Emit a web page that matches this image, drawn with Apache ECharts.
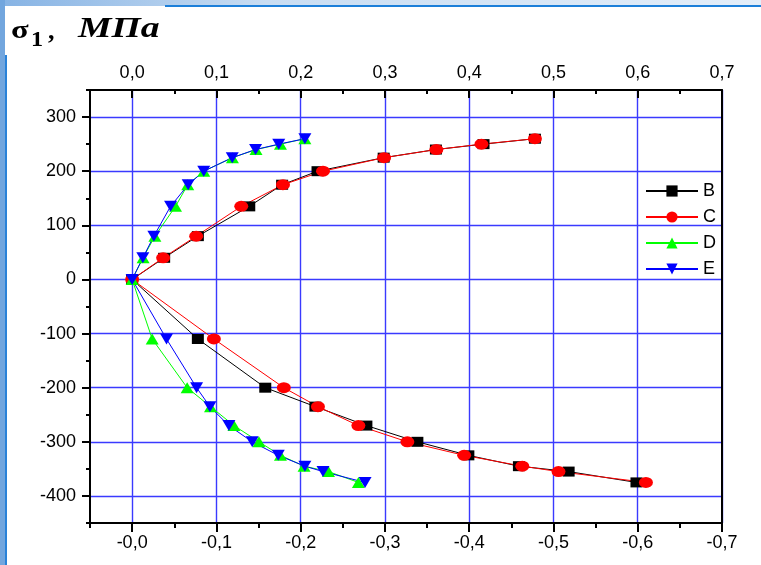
<!DOCTYPE html>
<html><head><meta charset="utf-8">
<script src="https://cdn.jsdelivr.net/npm/echarts@6/dist/echarts.min.js"></script>
<style>html,body{margin:0;padding:0;background:#fff}#c{width:761px;height:565px}</style>
</head><body><div id="c"></div>
<script>
// Stress levels (MPa), shared by all four series: upper branch, origin, lower branch
const stress = [260, 250, 240, 225, 200, 175, 135, 80, 40, 0, -110, -200, -235, -270, -300, -325, -345, -355, -375];
// Strain magnitudes (%)
const strainB = [0.478, 0.417, 0.3605, 0.2985, 0.220, 0.178, 0.139, 0.078, 0.038, 0, 0.078, 0.158, 0.2175, 0.278, 0.3385, 0.399, 0.459, 0.518, 0.5985];
const strainC = [0.478, 0.4145, 0.361, 0.299, 0.2265, 0.179, 0.1295, 0.076, 0.0368, 0, 0.097, 0.180, 0.2205, 0.2685, 0.3266, 0.394, 0.463, 0.506, 0.6097];
const strainD = [0.205, 0.176, 0.147, 0.119, 0.085, 0.066, 0.0515, 0.027, 0.013, 0, 0.0238, 0.0653, 0.093, 0.1208, 0.1505, 0.176, 0.204, 0.233, 0.2685];
const strainE = [0.205, 0.174, 0.1465, 0.1188, 0.085, 0.0665, 0.0456, 0.0258, 0.0127, 0, 0.0408, 0.0765, 0.0923, 0.1148, 0.1425, 0.1734, 0.205, 0.2265, 0.2764];
const seriesNames = ['B', 'C', 'D', 'E'];

// Tick labels
const xMajorValues = [0, 0.1, 0.2, 0.3, 0.4, 0.5, 0.6, 0.7];
const topTickLabels = ['0,0', '0,1', '0,2', '0,3', '0,4', '0,5', '0,6', '0,7'];
const bottomTickLabels = ['-0,0', '-0,1', '-0,2', '-0,3', '-0,4', '-0,5', '-0,6', '-0,7'];
const yMajorValues = [-400, -300, -200, -100, 0, 100, 200, 300];
const yTickLabels = ['-400', '-300', '-200', '-100', '0', '100', '200', '300'];

function idxOf(v, arr) {
  for (let i = 0; i < arr.length; i++) if (Math.abs(arr[i] - v) < 1e-6) return i;
  return -1;
}
function pairs(xs) { return xs.map((x, i) => [x, stress[i]]); }

const FONT = '"Liberation Sans", Arial, sans-serif';
const gridBlue = '#3a3aff';
const blk = { color: '#000', width: 2 };
const txt = { fontSize: 18, color: '#000', fontFamily: FONT };

const chart = echarts.init(document.getElementById('c'), null, { renderer: 'canvas' });

const xBase = { type: 'value', min: -0.05, max: 0.7, interval: 0.05 };
const yBase = { type: 'value', min: -450, max: 350, interval: 50 };

chart.setOption({
  animation: false,
  backgroundColor: '#fff',
  grid: { left: 90, right: 39, top: 90, bottom: 42 },
  xAxis: [
    Object.assign({}, xBase, {
      position: 'bottom',
      axisLine: { show: true, onZero: false, lineStyle: blk },
      axisTick: { show: true, inside: false, length: 5, lineStyle: blk },
      axisLabel: { show: true, margin: 11, showMinLabel: true, showMaxLabel: true, ...txt,
        formatter: v => { const i = idxOf(v, xMajorValues); return i >= 0 ? bottomTickLabels[i] : ''; } },
      splitLine: { show: true, showMinLine: true, showMaxLine: true,
        lineStyle: { color: ['rgba(0,0,0,0)', gridBlue], width: 1.4 } }
    }),
    {
      type: 'value', min: -0.05, max: 0.7, position: 'bottom',
      axisLine: { show: false, onZero: false },
      axisTick: { show: true, inside: false, length: 9, customValues: xMajorValues, lineStyle: blk },
      axisLabel: { show: false },
      splitLine: { show: false }
    },
    Object.assign({}, xBase, {
      position: 'top',
      axisLine: { show: true, onZero: false, lineStyle: blk },
      axisTick: { show: true, inside: true, length: 4, lineStyle: blk },
      axisLabel: { show: true, margin: 8, showMinLabel: true, showMaxLabel: true, ...txt,
        formatter: v => { const i = idxOf(v, xMajorValues); return i >= 0 ? topTickLabels[i] : ''; } },
      splitLine: { show: false }
    }),
    {
      type: 'value', min: -0.05, max: 0.7, position: 'top',
      axisLine: { show: false, onZero: false },
      axisTick: { show: true, inside: true, length: 8, customValues: xMajorValues, lineStyle: blk },
      axisLabel: { show: false },
      splitLine: { show: false }
    }
  ],
  yAxis: [
    Object.assign({}, yBase, {
      position: 'left',
      axisLine: { show: true, onZero: false, lineStyle: blk },
      axisTick: { show: true, inside: false, length: 4, lineStyle: blk },
      axisLabel: { show: true, margin: 14, showMinLabel: true, showMaxLabel: true, ...txt,
        formatter: v => { const i = idxOf(v, yMajorValues); return i >= 0 ? yTickLabels[i] : ''; } },
      splitLine: { show: true, showMinLine: true, showMaxLine: true,
        lineStyle: { color: ['rgba(0,0,0,0)', gridBlue], width: 1.4 } }
    }),
    {
      type: 'value', min: -450, max: 350, position: 'left',
      axisLine: { show: false, onZero: false },
      axisTick: { show: true, inside: false, length: 8, customValues: yMajorValues, lineStyle: blk },
      axisLabel: { show: false },
      splitLine: { show: false }
    },
    {
      type: 'value', min: -450, max: 350, position: 'right',
      axisLine: { show: true, onZero: false, lineStyle: blk },
      axisTick: { show: false },
      axisLabel: { show: false },
      splitLine: { show: false }
    }
  ],
  legend: {
    orient: 'vertical', left: 640, top: 177,
    itemWidth: 52, itemHeight: 14, itemGap: 8,
    textStyle: txt,
    data: seriesNames
  },
  series: [
    { name: 'B', type: 'line', data: pairs(strainB), symbol: 'rect', symbolSize: [12, 10],
      itemStyle: { color: '#000' }, lineStyle: { color: '#000', width: 1 } },
    { name: 'C', type: 'line', data: pairs(strainC), symbol: 'circle', symbolSize: [14, 11],
      itemStyle: { color: '#ff0000' }, lineStyle: { color: '#ff0000', width: 1 } },
    { name: 'D', type: 'line', data: pairs(strainD), symbol: 'triangle', symbolSize: [13, 11],
      itemStyle: { color: '#00ff00' }, lineStyle: { color: '#00ff00', width: 1 } },
    { name: 'E', type: 'line', data: pairs(strainE), symbol: 'triangle', symbolRotate: 180, symbolSize: [13, 11],
      itemStyle: { color: '#0000ff' }, lineStyle: { color: '#0000ff', width: 1 } }
  ],
  graphic: [
    { type: 'rect', left: 0, top: 0, z: 10, shape: { width: 761, height: 6 },
      style: { fill: new echarts.graphic.LinearGradient(0, 0, 1, 0, [
        { offset: 0, color: '#86b3e4' }, { offset: 0.35, color: '#c9ddf2' }, { offset: 1, color: '#e4eef9' }]) } },
    { type: 'rect', left: 165, top: 5, z: 10, shape: { width: 596, height: 2 }, style: { fill: '#1c7fd9' } },
    { type: 'rect', left: 0, top: 0, z: 10, shape: { width: 5, height: 565 }, style: { fill: '#72a6de' } },
    { type: 'rect', left: 5, top: 55, z: 10, shape: { width: 2, height: 510 }, style: { fill: '#2a82d8' } },
    { type: 'rect', left: 5, top: 6, z: 9, shape: { width: 160, height: 49 }, style: { fill: '#fff' } },
    { type: 'text', x: 11, y: 31, z: 11, scaleX: 1.25,
      style: { text: 'σ', font: 'bold 26px "Liberation Serif", "Times New Roman", serif', fill: '#000', verticalAlign: 'middle', align: 'left' } },
    { type: 'text', x: 31, y: 40, z: 11, scaleX: 1.1,
      style: { text: '1', font: 'bold 22px "Liberation Serif", "Times New Roman", serif', fill: '#000', verticalAlign: 'middle', align: 'left' } },
    { type: 'text', x: 48, y: 32, z: 11,
      style: { text: ',', font: 'bold 26px "Liberation Serif", "Times New Roman", serif', fill: '#000', verticalAlign: 'middle', align: 'left' } },
    { type: 'text', x: 78, y: 30, z: 11, scaleX: 1.3,
      style: { text: 'МПа', font: 'italic bold 29px "Liberation Serif", "Times New Roman", serif', fill: '#000', verticalAlign: 'middle', align: 'left' } }
  ]
});
</script>
</body></html>
